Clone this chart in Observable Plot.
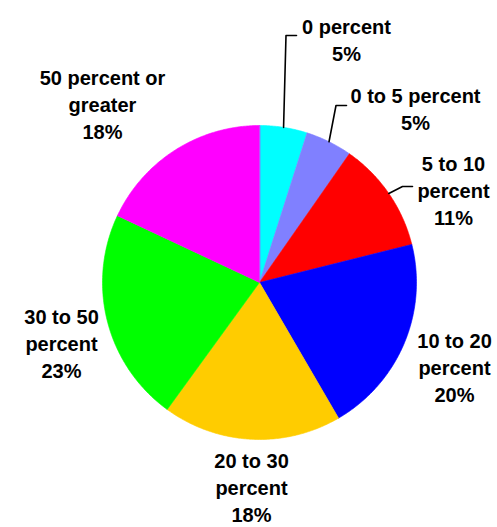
<!DOCTYPE html>
<html><head><meta charset="utf-8">
<script src="https://cdn.jsdelivr.net/npm/d3@7"></script>
<script src="https://cdn.jsdelivr.net/npm/@observablehq/plot@0.6"></script>
<style>body{margin:0;background:#fff}</style>
</head><body><div id="chart"></div>
<script>
// ---- data ----
const categories = ["0 percent", "0 to 5 percent", "5 to 10 percent", "10 to 20 percent", "20 to 30 percent", "30 to 50 percent", "50 percent or greater"];
const shares = [4.9, 4.8, 11.4, 20.5, 18.4, 22.0, 18.0];
const labelTexts = ["0 percent\n5%", "0 to 5 percent\n5%", "5 to 10\npercent\n11%", "10 to 20\npercent\n20%", "20 to 30\npercent\n18%", "30 to 50\npercent\n23%", "50 percent or\ngreater\n18%"];
const colors = ["#00FFFF", "#8080FF", "#FF0000", "#0000FF", "#FFCC00", "#00FF00", "#FF00FF"];

// ---- layout ----
const W = 497, H = 527;
const cx = 259, cy = 282, R = 157;
// label anchors (center x, top of first line) and leader elbows
const labelLayout = [
  {x: 346, y: 14, leader: [[285.5, 35], [296, 35]]},
  {x: 415, y: 83, leader: [[335.5, 105], [346, 105]]},
  {x: 453, y: 151, leader: [[402, 186], [412, 186]]},
  {x: 454, y: 328, leader: null},
  {x: 251, y: 449, leader: null},
  {x: 61, y: 304, leader: null},
  {x: 102, y: 65, leader: null}
];

const arcs = d3.pie().sort(null).value(d => d)(shares);
const pt = (a, r) => [cx + r * Math.sin(a), cy - r * Math.cos(a)];

const slicePts = [];
arcs.forEach((a, i) => {
  slicePts.push({k: i, x: cx, y: cy, c: colors[i]});
  const n = Math.max(8, Math.ceil((a.endAngle - a.startAngle) / 0.01));
  for (let j = 0; j <= n; j++) {
    const t = a.startAngle + (a.endAngle - a.startAngle) * j / n;
    const [x, y] = pt(t, R);
    slicePts.push({k: i, x, y, c: colors[i]});
  }
});

const labels = labelTexts.map((t, i) => ({text: t, x: labelLayout[i].x, y: labelLayout[i].y, lh: i === 4 ? 1.33 : 1.36}));

const leaderPts = [];
arcs.forEach((a, i) => {
  const L = labelLayout[i].leader;
  if (!L) return;
  const [x0, y0] = pt((a.startAngle + a.endAngle) / 2, R);
  leaderPts.push({k: i, x: x0, y: y0});
  L.forEach(([x, y]) => leaderPts.push({k: i, x, y}));
});

const textOpts = {x: "x", y: "y", text: "text", lineAnchor: "top", textAnchor: "middle",
  fontSize: 20, fontWeight: "bold", fill: "#000"};

const chart = Plot.plot({
  width: W, height: H,
  margin: 0,
  x: {domain: [0, W], axis: null},
  y: {domain: [H, 0], axis: null},
  color: {type: "identity"},
  style: {background: "#fff", fontFamily: "'Liberation Sans', Arial, sans-serif"},
  marks: [
    Plot.line(slicePts, {x: "x", y: "y", z: "k", fill: "c", stroke: "c", strokeWidth: 0.6, curve: "linear-closed"}),
    Plot.line(leaderPts, {x: "x", y: "y", z: "k", stroke: "#000", strokeWidth: 1.6}),
    Plot.text(labels.filter((d, i) => i !== 4), {...textOpts, lineHeight: 1.36}),
    Plot.text(labels.filter((d, i) => i === 4), {...textOpts, lineHeight: 1.33})
  ]
});
document.getElementById("chart").appendChild(chart);
</script>
</body></html>
